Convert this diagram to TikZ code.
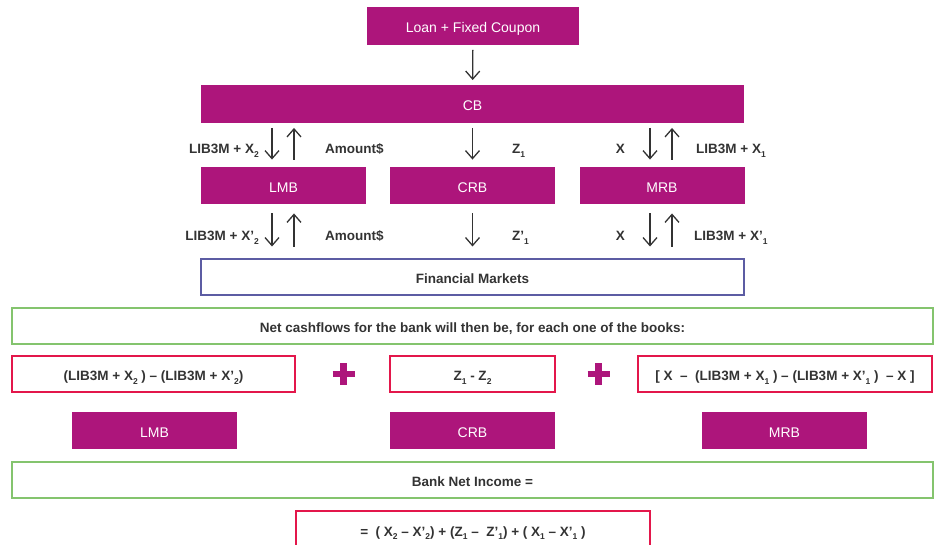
\documentclass[tikz,border=0pt]{standalone}
\usepackage{fontspec}
\setmainfont{Liberation Sans}
\usetikzlibrary{arrows.meta,calc}
\definecolor{bookpink}{HTML}{AD157B}
\definecolor{sumred}{HTML}{E3174B}
\definecolor{netgreen}{HTML}{84C46E}
\definecolor{fmblue}{HTML}{5C5CA3}
\definecolor{inkgray}{HTML}{333333}
\newcommand{\lowidx}[1]{\raisebox{-0.5ex}{\fontsize{8.5}{8.5}\selectfont #1}}
\tikzset{
  book/.style={rectangle, fill=bookpink, text=white, minimum width=165, minimum height=37.5,
    inner sep=0, text height=13, text depth=0, font=\fontsize{14}{16}\selectfont},
  market/.style={rectangle, draw=fmblue, line width=2, minimum height=36, inner sep=0,
    text height=13, text depth=0, text=inkgray, font=\bfseries\fontsize{13.5}{16}\selectfont},
  netbox/.style={rectangle, draw=netgreen, line width=2, minimum width=921, minimum height=36,
    inner sep=0, text height=13, text depth=0, text=inkgray, font=\bfseries\fontsize{13.5}{16}\selectfont},
  sumbox/.style={rectangle, draw=sumred, line width=2, minimum height=36, inner sep=0,
    text height=13, text depth=0, text=inkgray, font=\bfseries\fontsize{13.5}{16}\selectfont},
  flowlabel/.style={inner sep=0, text height=13, text depth=0, text=inkgray,
    font=\bfseries\fontsize{13.5}{16}\selectfont},
  flow/.style={draw=inkgray, line width=1.3},
  down/.style={arrows={-Straight Barb[length=8pt,width=14pt]}},
  up/.style={arrows={Straight Barb[length=8pt,width=14pt]-}},
  plus/.style={draw=bookpink, line width=6.5}
}
\begin{document}
\begin{tikzpicture}[x=1pt,y=-1pt]
  \useasboundingbox (0,0) rectangle (939,544);
  \clip (0,0) rectangle (939,544);
  % books and markets
  \node[book, minimum width=212] (loan) at (473,26) {Loan + Fixed Coupon};
  \node[book, minimum width=543] (cb) at (472.5,104) {CB};
  \node[book] (lmb) at (283.5,185.5) {LMB};
  \node[book] (crb) at (472.5,185.5) {CRB};
  \node[book] (mrb) at (662,185.5) {MRB};
  \node[market, minimum width=543] (fm) at (472.5,276.5) {Financial Markets};
  % flows
  \begin{scope}[flow, shorten <=5pt, shorten >=5pt]
    \draw[down] (loan) to (cb);
  \end{scope}
  \begin{scope}[flow, shorten <=5pt, shorten >=7pt]
    \draw[down] ($(cb.south -| lmb.north)+(-11.5,0)$) to ($(lmb.north)+(-11.5,0)$);
    \draw[up] ($(cb.south -| lmb.north)+(10.5,0)$) to ($(lmb.north)+(10.5,0)$);
    \draw[down] (cb.south -| crb.north) to (crb.north);
    \draw[down] ($(cb.south -| mrb.north)+(-12,0)$) to ($(mrb.north)+(-12,0)$);
    \draw[up] ($(cb.south -| mrb.north)+(10,0)$) to ($(mrb.north)+(10,0)$);
  \end{scope}
  \begin{scope}[flow, shorten <=9pt, shorten >=11pt]
    \draw[down] ($(lmb.south)+(-11.5,0)$) to ($(fm.north -| lmb.south)+(-11.5,0)$);
    \draw[up] ($(lmb.south)+(10.5,0)$) to ($(fm.north -| lmb.south)+(10.5,0)$);
    \draw[down] (crb.south) to (fm.north -| crb.south);
    \draw[down] ($(mrb.south)+(-12,0)$) to ($(fm.north -| mrb.south)+(-12,0)$);
    \draw[up] ($(mrb.south)+(10,0)$) to ($(fm.north -| mrb.south)+(10,0)$);
  \end{scope}
  % flow labels
  \node[flowlabel, anchor=east] (lpay) at (259,147) {LIB3M + X\lowidx{2}};
  \node[flowlabel, anchor=west] (lamt) at (325,147) {Amount\$};
  \node[flowlabel, anchor=west] (cpay) at (512,147) {Z\lowidx{1}};
  \node[flowlabel, anchor=east] (rx) at (625,147) {X};
  \node[flowlabel, anchor=west] (rpay) at (696,147) {LIB3M + X\lowidx{1}};
  \node[flowlabel, anchor=east] (lpay2) at (259,234) {LIB3M + X’\lowidx{2}};
  \node[flowlabel, anchor=west] (lamt2) at (325,234) {Amount\$};
  \node[flowlabel, anchor=west] (cpay2) at (512,234) {Z’\lowidx{1}};
  \node[flowlabel, anchor=east] (rx2) at (625,234) {X};
  \node[flowlabel, anchor=west] (rpay2) at (694,234) {LIB3M + X’\lowidx{1}};
  % net cashflows
  \node[netbox] (net) at (472.5,325.5) {Net cashflows for the bank will then be, for each one of the books:};
  \node[sumbox, minimum width=283] (lsum) at (153.5,374) {(LIB3M + X\lowidx{2} ) – (LIB3M + X’\lowidx{2})};
  \node[sumbox, minimum width=165] (csum) at (472.5,374) {Z\lowidx{1} - Z\lowidx{2}};
  \node[sumbox, minimum width=294] (rsum) at (785,374) {[ X \ – \ (LIB3M + X\lowidx{1} ) – (LIB3M + X’\lowidx{1} ) \ – X ]};
  \draw[plus] (343.5,363) -- (343.5,385) (332.5,374) -- (354.5,374);
  \draw[plus] (598.5,363) -- (598.5,385) (587.5,374) -- (609.5,374);
  \node[book] (lmb2) at (154.5,430.5) {LMB};
  \node[book] (crb2) at (472.5,430.5) {CRB};
  \node[book] (mrb2) at (784.5,430.5) {MRB};
  % income
  \node[netbox] (income) at (472.5,479.5) {Bank Net Income =};
  \node[sumbox, minimum width=354, minimum height=37] (total) at (473,529.5)
    {= \ ( X\lowidx{2} – X’\lowidx{2}) + (Z\lowidx{1} – \ Z’\lowidx{1}) + ( X\lowidx{1} – X’\lowidx{1} )};
\end{tikzpicture}
\end{document}
